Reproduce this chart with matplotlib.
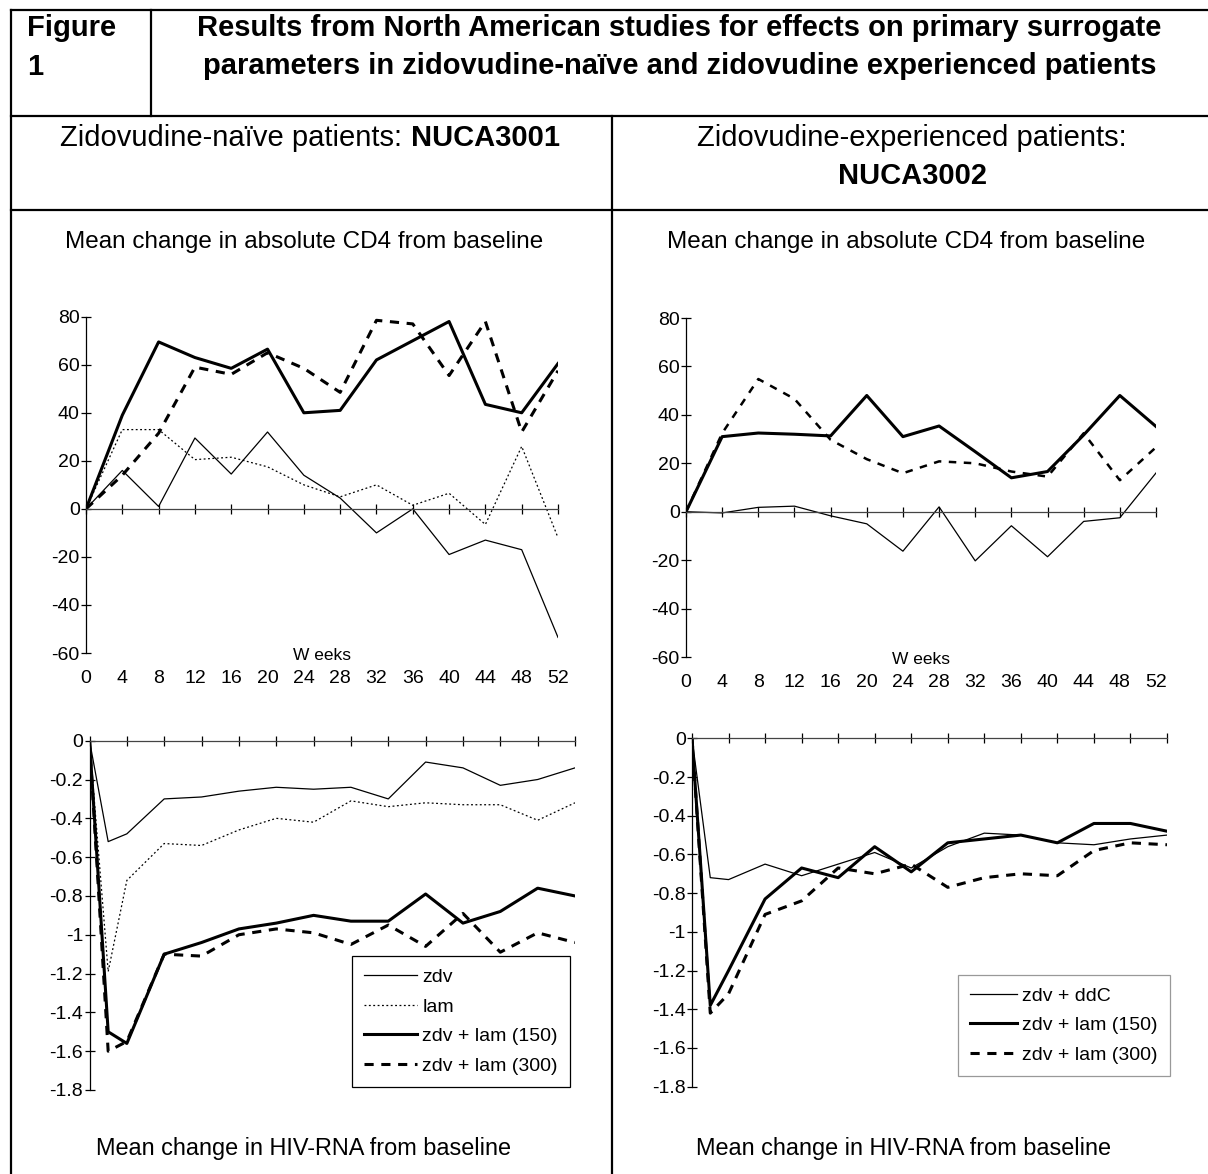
import numpy as np
import matplotlib.pyplot as plt
from matplotlib.lines import Line2D

plt.rcParams['font.family'] = ['Liberation Sans', 'DejaVu Sans']
plt.rcParams['axes.unicode_minus'] = False

#----------------------------------------------------------------
# Data
weeks_cd4 = [0, 4, 8, 12, 16, 20, 24, 28, 32, 36, 40, 44, 48, 52]
weeks_rna = [0, 2, 4, 8, 12, 16, 20, 24, 28, 32, 36, 40, 44, 48, 52]

# NUCA3001 - CD4
cd4_3001_zdv = [0, 16, 1, 29.5, 14.5, 32, 14, 4.5, -10, 0, -19, -13, -17, -53.5]
cd4_3001_lam = [0, 33, 33, 20.5, 21.5, 17.5, 10, 5, 10, 1.5, 6.5, -6.5, 26, -12]
cd4_3001_150 = [0, 39, 69.5, 63, 58.5, 66.5, 40, 41, 62, 70, 78, 43.5, 40, 60.5]
cd4_3001_300 = [0, 14, 31.5, 59, 56, 65, 58.5, 48.5, 78.5, 77, 55.5, 78, 32, 57.5]

# NUCA3002 - CD4
cd4_3002_ddc = [0, -0.5, 1.8, 2.3, -1.7, -5, -16.3, 2, -20.3, -5.8, -18.6, -4, -2.5, 16]
cd4_3002_150 = [0, 31, 32.5, 32, 31.3, 48, 31, 35.4, 24.8, 14, 16.6, 31.7, 48, 35.2]
cd4_3002_300 = [0, 32.4, 54.8, 46.6, 29.7, 21.7, 15.9, 20.8, 20, 16.6, 14.5, 32.4, 13, 26.6]

# NUCA3001 - HIV-RNA
rna_3001_zdv = [0, -0.52, -0.48, -0.30, -0.29, -0.26, -0.24, -0.25, -0.24, -0.30, -0.11, -0.14, -0.23, -0.20, -0.14]
rna_3001_lam = [0, -1.19, -0.72, -0.53, -0.54, -0.46, -0.40, -0.42, -0.31, -0.34, -0.32, -0.33, -0.33, -0.41, -0.32]
rna_3001_150 = [0, -1.50, -1.56, -1.10, -1.04, -0.97, -0.94, -0.90, -0.93, -0.93, -0.79, -0.94, -0.88, -0.76, -0.80]
rna_3001_300 = [0, -1.60, -1.55, -1.10, -1.11, -1.00, -0.97, -0.99, -1.05, -0.95, -1.06, -0.89, -1.09, -0.99, -1.04]

# NUCA3002 - HIV-RNA
rna_3002_ddc = [0, -0.72, -0.73, -0.65, -0.71, -0.65, -0.59, -0.67, -0.56, -0.49, -0.50, -0.54, -0.55, -0.52, -0.50]
rna_3002_150 = [0, -1.38, -1.20, -0.83, -0.67, -0.72, -0.56, -0.69, -0.54, -0.52, -0.50, -0.54, -0.44, -0.44, -0.48]
rna_3002_300 = [0, -1.42, -1.32, -0.91, -0.84, -0.67, -0.70, -0.65, -0.77, -0.72, -0.70, -0.71, -0.58, -0.54, -0.55]

cd4_ticks = [-60, -40, -20, 0, 20, 40, 60, 80]
rna_ticks = [0, -0.2, -0.4, -0.6, -0.8, -1, -1.2, -1.4, -1.6, -1.8]
rna_tick_labels = ['0', '-0.2', '-0.4', '-0.6', '-0.8', '-1', '-1.2', '-1.4', '-1.6', '-1.8']
#----------------------------------------------------------------

W, H = 1208, 1174
fig = plt.figure(figsize=(W / 100, H / 100), dpi=100)


def px_axes(x0, x1, ytop, ybot):
    # axes placed by pixel corners
    return fig.add_axes([x0 / W, 1 - ybot / H, (x1 - x0) / W, (ybot - ytop) / H])


def hline(y, x0, x1):
    fig.add_artist(Line2D([x0 / W, x1 / W], [1 - y / H, 1 - y / H], color='black', lw=1.6))


def vline(x, y0, y1):
    fig.add_artist(Line2D([x / W, x / W], [1 - y0 / H, 1 - y1 / H], color='black', lw=1.6))


def style_axes(ax, ylim, yticks, ylabels, xlabels):
    ax.set_xlim(0, 52)
    ax.set_ylim(*ylim)
    for s in ['top', 'right']:
        ax.spines[s].set_visible(False)
    ax.spines['bottom'].set_position(('data', 0))
    ax.spines['left'].set_linewidth(0.9)
    ax.spines['bottom'].set_linewidth(0.9)
    ax.spines['bottom'].set_color('#444444')
    ax.set_xticks(weeks_cd4)
    ax.tick_params(axis='x', direction='inout', length=7, width=0.9, labelbottom=False)
    ax.set_yticks(yticks)
    ax.set_yticklabels(ylabels)
    ax.tick_params(axis='y', direction='inout', length=7, width=0.9, labelsize=14, pad=1)
    ax.patch.set_alpha(0)
    if xlabels:
        sec = ax.secondary_xaxis('bottom')
        sec.spines['bottom'].set_visible(False)
        sec.set_xticks(weeks_cd4)
        sec.tick_params(length=0, labelsize=14, pad=12)
        ax.annotate('W eeks', xy=(26, ylim[0]), xytext=(0, -1.5), textcoords='offset points',
                    ha='center', va='center', fontsize=12.5)


leg_kw = dict(loc='lower right', bbox_transform=fig.transFigure, borderaxespad=0, fontsize=14,
              frameon=True, fancybox=False, labelspacing=0.62, borderpad=0.62,
              handletextpad=0.3, framealpha=1)

#----------------------------------------------------------------
# Top left: CD4 NUCA3001
ax1 = px_axes(86, 558, 316.7, 653)
ax1.plot(weeks_cd4, cd4_3001_zdv, color='black', lw=0.9)
ax1.plot(weeks_cd4, cd4_3001_lam, color='black', lw=0.9, ls=(0, (1.5, 2)))
ax1.plot(weeks_cd4, cd4_3001_150, color='black', lw=2.2)
ax1.plot(weeks_cd4, cd4_3001_300, color='black', lw=2.2, ls=(0, (3, 2.5)))
style_axes(ax1, (-60, 80), cd4_ticks, [str(t) for t in cd4_ticks], True)

# Top right: CD4 NUCA3002
ax2 = px_axes(686, 1156, 318, 657)
ax2.plot(weeks_cd4, cd4_3002_ddc, color='black', lw=0.9)
ax2.plot(weeks_cd4, cd4_3002_150, color='black', lw=2.2)
ax2.plot(weeks_cd4, cd4_3002_300, color='black', lw=1.8, ls=(0, (3, 3)))
style_axes(ax2, (-60, 80), cd4_ticks, [str(t) for t in cd4_ticks], True)

# Bottom left: HIV-RNA NUCA3001
ax3 = px_axes(89.5, 575, 740.7, 1090)
ax3.plot(weeks_rna, rna_3001_zdv, color='black', lw=0.9, label='zdv')
ax3.plot(weeks_rna, rna_3001_lam, color='black', lw=0.9, ls=(0, (1.5, 2)), label='lam')
ax3.plot(weeks_rna, rna_3001_150, color='black', lw=2.2, label='zdv + lam (150)')
ax3.plot(weeks_rna, rna_3001_300, color='black', lw=2.2, ls=(0, (3, 2.5)), label='zdv + lam (300)')
style_axes(ax3, (-1.8, 0), rna_ticks, rna_tick_labels, False)
ax3.legend(bbox_to_anchor=(570 / W, 1 - 1087 / H), edgecolor='black', handlelength=2.7, **leg_kw)
ax3.get_legend().get_frame().set_linewidth(0.9)

# Bottom right: HIV-RNA NUCA3002
ax4 = px_axes(692, 1167, 738.3, 1086.7)
ax4.plot(weeks_rna, rna_3002_ddc, color='black', lw=0.9, label='zdv + ddC')
ax4.plot(weeks_rna, rna_3002_150, color='black', lw=2.2, label='zdv + lam (150)')
ax4.plot(weeks_rna, rna_3002_300, color='black', lw=2.2, ls=(0, (3, 2.5)), label='zdv + lam (300)')
style_axes(ax4, (-1.8, 0), rna_ticks, rna_tick_labels, False)
ax4.legend(bbox_to_anchor=(1170 / W, 1 - 1076 / H), edgecolor='#999999', handlelength=2.4, **leg_kw)
ax4.get_legend().get_frame().set_linewidth(0.9)
#----------------------------------------------------------------

#----------------------------------------------------------------
# Table frame
hline(10, 11, W)
hline(116, 11, W)
hline(210, 11, W)
vline(11, 10, H)
vline(151, 10, 116)
vline(612, 116, H)


def ftext(x, y, s, **kw):
    return fig.text(x / W, 1 - y / H, s, **kw)


ftext(27, 36.5, 'Figure', fontsize=21, fontweight='bold', va='baseline')
ftext(27, 75, '1', fontsize=21, fontweight='bold', va='baseline')
ftext(679.5, 36.5, 'Results from North American studies for effects on primary surrogate',
      fontsize=21, fontweight='bold', va='baseline', ha='center')
ftext(679.5, 74, 'parameters in zidovudine-naïve and zidovudine experienced patients',
      fontsize=21, fontweight='bold', va='baseline', ha='center')

# mixed regular / bold heading, centred by measuring
renderer = fig.canvas.get_renderer()
t1 = ftext(0, 146.5, 'Zidovudine-naïve patients: ', fontsize=21, va='baseline')
t2 = ftext(0, 146.5, 'NUCA3001', fontsize=21, fontweight='bold', va='baseline')
w1 = t1.get_window_extent(renderer).width
w2 = t2.get_window_extent(renderer).width
start = 310 - (w1 + w2) / 2
t1.set_x(start / W)
t2.set_x((start + w1) / W)

ftext(912, 146.5, 'Zidovudine-experienced patients:', fontsize=21, va='baseline', ha='center')
ftext(912, 184.5, 'NUCA3002', fontsize=21, fontweight='bold', va='baseline', ha='center')

ftext(304, 248, 'Mean change in absolute CD4 from baseline', fontsize=17.5, va='baseline', ha='center')
ftext(906, 248, 'Mean change in absolute CD4 from baseline', fontsize=17.5, va='baseline', ha='center')
ftext(303, 1155, 'Mean change in HIV-RNA from baseline', fontsize=16.9, va='baseline', ha='center')
ftext(903, 1155, 'Mean change in HIV-RNA from baseline', fontsize=16.9, va='baseline', ha='center')
#----------------------------------------------------------------

fig.savefig('out.png', dpi=100)
